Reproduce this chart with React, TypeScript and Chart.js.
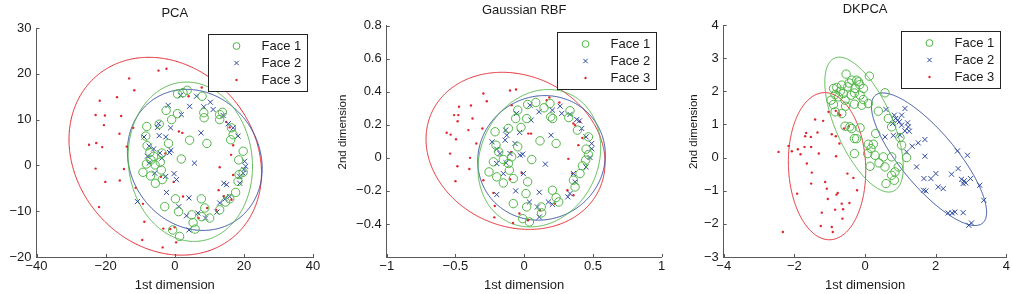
import { useEffect, useRef } from "react";
import { Chart, registerables } from "chart.js";

Chart.register(...registerables);

// ---- text ----
const panelTitles = ["PCA", "Gaussian RBF", "DKPCA"];
const legendLabels = ["Face 1", "Face 2", "Face 3"];
const xAxisLabel = "1st dimension";
const yAxisLabel = "2nd dimension";

// ---- axis ranges [min, max, step] ----
const pcaXRange = [-40, 40, 20];
const pcaYRange = [-20, 30, 10];
const rbfXRange = [-1, 1, 0.5];
const rbfYRange = [-0.6, 0.8, 0.2];
const dkXRange = [-4, 4, 2];
const dkYRange = [-3, 4, 1];

// ---- PCA projections ----
const pcaFace1 = [
  [3.6, 16.4], [0.8, 15.6], [7.9, 15.1], [-2.5, 12.0], [0.8, 11.3], [8.4, 11.5], [13.0, 11.1], [13.8, 11.6],
  [-0.9, 10.0], [-4.5, 9.0], [-8.1, 8.5], [13.0, 10.0], [8.5, 10.4], [-8.4, 6.4], [-8.0, 4.3], [4.3, 5.5],
  [9.3, 4.8], [-1.8, 4.8], [16.2, 5.6], [16.9, 6.7], [-7.2, 2.8], [-6.1, 2.0], [-3.7, 2.7], [-4.2, 0.7],
  [-6.9, 1.2], [-8.2, 0.3], [-5.7, 0.1], [-9.2, -1.5], [-7.0, -2.3], [-3.9, -1.0], [-3.6, -3.1], [-5.6, -3.9],
  [1.9, 1.4], [19.8, 3.1], [18.5, 1.2], [19.8, -1.5], [18.6, -2.0], [18.3, -3.5], [17.6, -5.9], [15.9, -7.3],
  [14.7, -8.0], [13.0, -9.7], [7.7, -7.3], [8.7, -9.3], [7.8, -11.2], [0.2, -7.3], [1.1, -10.1], [-2.9, -9.0],
  [4.9, -10.8], [5.3, -12.5], [5.9, -13.9], [1.4, -15.5], [-0.6, -14.1], [10.1, -11.5], [2.4, 15.9], [16.4, 8.2],
];
const pcaFace2 = [
  [1.7, 15.3], [6.3, 15.1], [-1.9, 13.1], [4.3, 12.9], [8.4, 12.8], [1.9, 11.1], [11.1, 12.2], [10.3, 13.8],
  [14.0, 10.9], [15.5, 9.1], [16.9, 8.2], [18.3, 6.4], [-4.7, 9.1], [-5.0, 8.3], [-4.5, 6.5], [-8.9, 6.2],
  [-2.6, 6.2], [-1.2, 8.2], [7.6, 7.1], [-7.4, 4.2], [-6.1, 3.6], [-7.9, 2.0], [-7.4, 0.5], [-3.7, 1.6],
  [-1.5, 2.8], [-1.1, 3.3], [-4.3, 2.7], [-5.8, -1.7], [-2.6, -2.4], [-0.2, -1.8], [0.5, -3.1], [5.7, 0.5],
  [-2.4, -5.9], [4.1, -7.1], [1.2, -9.0], [3.4, -11.0], [4.1, -14.1], [6.7, -10.4], [8.9, -11.5], [12.2, -10.2],
  [13.0, -8.2], [14.6, -7.3], [15.9, -6.8], [14.2, -3.9], [15.0, -4.2], [18.8, -3.9], [18.8, -2.4], [20.2, 0.9],
  [20.5, -0.2], [20.0, -0.9], [19.8, -1.7], [-10.8, -7.9],
];
const pcaFace3 = [
  [-4.7, 20.7], [-2.4, 21.1], [-13.2, 19.0], [-11.7, 16.4], [-16.7, 14.9], [-21.7, 14.1], [-22.9, 11.0],
  [-20.2, 10.9], [-15.5, 10.8], [-20.5, 8.8], [-16.0, 6.9], [-12.0, 8.2], [-24.8, 4.5], [-22.7, 4.9],
  [-21.0, 4.0], [-13.9, 4.1], [-22.9, -0.7], [-14.7, -0.8], [-20.1, -3.6], [-15.9, -3.3], [-11.3, -4.9],
  [-21.9, -9.1], [-9.2, -8.4], [-8.8, -12.3], [-9.4, -16.3], [-3.5, -17.9], [0.4, -16.8], [-1.3, -13.9],
  [0.0, -13.5], [-3.3, -13.8], [-2.7, 2.6], [-4.0, -2.5], [-0.3, -3.6], [1.2, 7.4], [2.2, 7.1], [4.0, 15.1],
  [7.8, 17.0], [13.0, -0.4], [12.7, -5.4], [16.3, 2.3], [16.9, -2.1], [16.9, 4.4], [14.9, 9.5], [15.9, 8.3],
  [16.4, -7.5], [14.2, -6.7], [9.4, -9.3], [12.0, -9.7], [6.9, -11.5], [2.4, -6.8],
];
// fitted ellipses: [centre x, centre y, x extent, y extent, correlation]
const pcaEllipse1 = [4.5, 0.8, 18.0, 17.4, -0.06];
const pcaEllipse2 = [5.8, 1.2, 19.5, 15.4, -0.12];
const pcaEllipse3 = [-2.75, 2.0, 27.85, 21.6, -0.17];

// ---- Gaussian RBF kernel projections ----
const rbfFace1 = [
  [0.025, 0.323], [0.084, 0.335], [0.188, 0.329], [0.144, 0.303], [0.333, 0.285], [0.324, 0.244], [-0.047, 0.289],
  [0.018, 0.238], [-0.062, 0.238], [0.193, 0.248], [0.207, 0.238], [-0.115, 0.178], [-0.023, 0.184], [-0.212, 0.158],
  [0.387, 0.168], [0.467, 0.127], [0.115, 0.103], [0.232, 0.087], [-0.047, 0.067], [-0.205, 0.077], [-0.185, 0.036],
  [-0.152, -0.01], [-0.091, 0.006], [0.055, -0.01], [0.45, 0.053], [0.467, 0.02], [0.447, -0.014], [-0.256, -0.085],
  [-0.2, -0.115], [-0.152, -0.152], [-0.108, -0.075], [-0.115, -0.034], [-0.224, -0.024], [-0.079, -0.125],
  [0.025, -0.145], [0.013, -0.216], [-0.079, -0.277], [0.018, -0.297], [0.205, -0.196], [0.232, -0.24],
  [0.251, -0.267], [0.124, -0.297], [0.127, -0.333], [-0.011, -0.368], [0.038, -0.388], [0.37, -0.176],
  [0.406, -0.095], [0.423, -0.048], [0.358, -0.135],
];
const rbfFace2 = [
  [0.042, 0.319], [0.261, 0.313], [-0.055, 0.269], [0.108, 0.279], [0.205, 0.289], [0.333, 0.263], [0.273, 0.269],
  [0.05, 0.228], [0.382, 0.232], [0.402, 0.224], [0.418, 0.178], [0.45, 0.127], [-0.135, 0.168], [-0.127, 0.137],
  [-0.033, 0.154], [0.195, 0.137], [-0.234, 0.097], [-0.2, 0.053], [-0.139, 0.107], [-0.067, 0.087], [-0.176, 0.026],
  [-0.03, 0.016], [-0.011, 0.022], [-0.103, 0.026], [-0.2, -0.034], [-0.132, -0.03], [0.154, -0.038], [-0.006, -0.095],
  [-0.152, -0.095], [-0.062, -0.2], [0.11, -0.208], [-0.2, -0.222], [0.038, -0.267], [0.096, -0.297], [0.11, -0.358],
  [0.176, -0.267], [0.205, -0.281], [0.317, -0.236], [0.358, -0.095], [0.45, -0.055], [0.491, 0.087], [0.491, 0.055],
  [0.479, 0.002], [0.333, -0.216], [0.37, -0.145],
];
const rbfFace3 = [
  [-0.103, 0.408], [-0.059, 0.414], [-0.297, 0.39], [-0.272, 0.343], [-0.474, 0.309], [-0.387, 0.317], [-0.51, 0.259],
  [-0.479, 0.259], [-0.484, 0.222], [-0.376, 0.238], [-0.406, 0.168], [-0.304, 0.178], [-0.564, 0.152], [-0.535, 0.141],
  [-0.496, 0.113], [-0.348, 0.087], [-0.539, 0.026], [-0.394, 0.0], [-0.486, -0.051], [-0.399, -0.067], [-0.5, -0.141],
  [-0.297, -0.135], [-0.224, -0.212], [-0.214, -0.291], [-0.217, -0.36], [-0.081, -0.394], [0.028, -0.378],
  [-0.035, -0.337], [-0.018, -0.091], [-0.096, 0.034], [-0.103, -0.129], [0.03, 0.147], [0.05, 0.147], [-0.091, 0.319],
  [0.164, 0.349], [0.183, 0.366], [0.358, 0.208], [0.37, 0.198], [0.394, 0.077], [0.321, -0.006], [0.35, -0.095],
  [0.314, -0.196], [0.358, -0.226], [0.224, -0.277], [0.115, -0.317], [0.406, 0.218], [0.256, 0.335], [0.423, 0.121],
];
const rbfEllipse1 = [0.11, -0.002, 0.446, 0.416, 0.15];
const rbfEllipse2 = [0.126, 0.0, 0.464, 0.377, 0.05];
const rbfEllipse3 = [-0.063, 0.0425, 0.651, 0.4755, -0.15];

// ---- DKPCA projections ----
const dkFace1 = [
  [-0.536, 2.518], [-0.188, 2.286], [0.122, 2.457], [-0.235, 2.336], [-0.376, 2.336], [-0.659, 2.185], [-0.8, 2.115],
  [-0.894, 2.085], [-0.489, 2.135], [-0.282, 2.085], [-0.047, 2.085], [-0.612, 1.934], [-0.395, 1.883], [-0.141, 1.883],
  [-0.753, 1.833], [-0.565, 1.732], [-0.96, 1.732], [-0.894, 1.601], [-0.301, 1.611], [-0.094, 1.581], [0.094, 1.631],
  [-0.847, 1.38], [-0.659, 1.329], [0.565, 1.954], [0.376, 1.4], [-0.565, 0.947], [-0.376, 0.876], [-0.141, 0.896],
  [-0.301, 0.574], [0.301, 0.725], [0.094, 0.403], [0.235, 0.403], [0.169, 0.272], [0.075, 0.121], [-0.301, 0.121],
  [0.282, 0.07], [0.518, 0.02], [0.753, 0.02], [0.395, -0.161], [0.141, -0.262], [0.565, -0.282], [0.941, -0.282],
  [0.753, -0.534], [0.828, -0.685], [0.593, -0.785], [0.847, -0.433], [1.176, 0.0], [1.035, 0.373], [0.988, 0.604],
  [0.659, 1.178], [0.753, 0.926], [-0.7, 2.0], [-0.45, 2.25], [-0.3, 1.95], [-0.15, 2.2], [-0.55, 1.55],
  [-0.85, 1.9], [-0.05, 1.75], [-0.43, 0.93], [-0.24, 0.57],
];
const dkFace2 = [
  [0.593, 1.45], [0.828, 1.279], [0.866, 1.178], [0.922, 1.128], [0.969, 1.078], [0.781, 1.027], [1.035, 0.977],
  [1.205, 1.047], [1.224, 0.926], [1.129, 0.806], [1.252, 0.796], [0.565, 0.624], [0.8, 0.665], [0.988, 0.675],
  [1.176, 0.171], [1.336, 0.342], [1.506, 0.443], [1.694, 0.544], [1.459, -0.282], [1.694, 0.04], [1.666, -0.634],
  [1.656, -0.987], [1.722, -1.007], [1.864, -0.634], [2.005, -0.483], [2.071, -0.886], [2.212, -0.937],
  [2.447, -0.503], [2.635, -0.332], [2.616, 0.201], [2.899, 0.07], [2.729, -0.655], [2.805, -0.705], [2.776, -0.785],
  [2.852, -0.765], [2.984, -0.634], [3.247, -0.836], [3.36, -1.289], [2.353, -1.672], [2.466, -1.672],
  [2.541, -1.642], [2.776, -1.662], [2.936, -2.044], [3.012, -1.974], [1.129, 1.48], [1.035, 1.279],
];
const dkFace3 = [
  [-2.447, 0.171], [-2.325, -2.246], [-2.165, 0.352], [-2.071, 0.191], [-1.901, 0.252], [-1.826, 0.101],
  [-1.92, -1.088], [-1.713, 0.322], [-1.694, 0.644], [-1.666, 0.745], [-1.534, 0.624], [-1.525, 0.322],
  [-1.412, 1.148], [-1.346, 0.755], [-1.186, 1.108], [-1.308, 0.121], [-1.647, -0.181], [-1.506, -0.453],
  [-1.525, -0.786], [-1.129, -0.735], [-1.082, -0.937], [-1.054, -1.249], [-1.224, -1.662], [-1.252, -2.064],
  [-0.941, -2.095], [-0.913, -2.246], [-0.809, -1.118], [-0.772, -1.067], [-0.847, -1.571], [-0.621, -1.561],
  [-0.659, -1.39], [-0.442, -1.37], [-0.64, -1.843], [-0.941, 0.705], [-0.828, 0.644], [-0.819, 0.04],
  [-1.035, 1.38], [-0.828, 1.41], [-0.753, 1.329], [-0.706, 1.279], [-0.593, 0.876], [-0.499, -0.483],
  [-0.329, -0.614], [-0.226, -0.987], [-0.461, 0.947], [-0.725, 0.423],
];
const dkEllipse1 = [-0.028, 0.995, 1.11, 2.035, -0.63];
const dkEllipse2 = [1.81, -0.05, 1.63, 2.0, -0.8];
const dkEllipse3 = [-1.075, -0.26, 1.095, 2.22, -0.06];

// ---- styling ----
const GREEN = "#4fb545";
const BLUE = "#2e4a9e";
const RED = "#e0262c";
const AXIS = "#5a5a5a";
const TEXT = "#1a1a1a";
const FONT = "'Liberation Sans', Arial, Helvetica, sans-serif";
const FONT_SIZE = 13;

const toPoints = (arr: number[][]) => arr.map(([x, y]) => ({ x, y }));

// outline of a fitted 2-D Gaussian contour
function ellipseOutline(e: number[]) {
  const [cx, cy, sx, sy, rho] = e;
  const k = Math.sqrt(1 - rho * rho);
  const pts: { x: number; y: number }[] = [];
  for (let i = 0; i <= 180; i++) {
    const t = (i / 180) * Math.PI * 2;
    pts.push({ x: cx + sx * Math.cos(t), y: cy + sy * (rho * Math.cos(t) + k * Math.sin(t)) });
  }
  return pts;
}

const fmt = (v: number, hidden: number | null) => {
  const n = Math.round(v * 1000) / 1000;
  if (hidden !== null && Math.abs(n - hidden) < 1e-9) return "";
  return String(n).replace("-", "\u2212");
};

// short tick marks pointing into the plot area
const insideTicks = {
  id: "insideTicks",
  afterDraw(chart: any) {
    const { ctx, chartArea: a, scales } = chart;
    ctx.save();
    ctx.strokeStyle = AXIS;
    ctx.lineWidth = 1;
    ctx.beginPath();
    for (const t of scales.x.ticks) {
      const px = Math.round(scales.x.getPixelForValue(t.value)) + 0.5;
      ctx.moveTo(px, a.bottom);
      ctx.lineTo(px, a.bottom - 3);
    }
    for (const t of scales.y.ticks) {
      const py = Math.round(scales.y.getPixelForValue(t.value)) + 0.5;
      ctx.moveTo(a.left, py);
      ctx.lineTo(a.left + 3, py);
    }
    ctx.stroke();
    ctx.restore();
  },
};

// boxed legend in the upper-right corner of the axes
const boxLegend = {
  id: "boxLegend",
  afterDraw(chart: any) {
    const { ctx, chartArea: a } = chart;
    const w = 99;
    const h = 57;
    const left = Math.round(a.right - 6 - w) + 0.5;
    const top = Math.round(a.top + 6) + 0.5;
    ctx.save();
    ctx.fillStyle = "#ffffff";
    ctx.fillRect(left, top, w, h);
    ctx.strokeStyle = "#222222";
    ctx.lineWidth = 1;
    ctx.strokeRect(left, top, w, h);
    ctx.font = `${FONT_SIZE}px ${FONT}`;
    ctx.textBaseline = "middle";
    ctx.textAlign = "left";
    chart.data.datasets.slice(0, 3).forEach((ds: any, i: number) => {
      const y = top + 11.5 + i * 17;
      const mx = left + 28;
      ctx.lineWidth = 1;
      if (ds.pointStyle === "crossRot") {
        ctx.strokeStyle = ds.borderColor;
        ctx.beginPath();
        ctx.moveTo(mx - 2.2, y - 2.2);
        ctx.lineTo(mx + 2.2, y + 2.2);
        ctx.moveTo(mx - 2.2, y + 2.2);
        ctx.lineTo(mx + 2.2, y - 2.2);
        ctx.stroke();
      } else if (ds.pointBorderWidth === 0) {
        ctx.fillStyle = ds.backgroundColor;
        ctx.beginPath();
        ctx.arc(mx, y, 1.2, 0, Math.PI * 2);
        ctx.fill();
      } else {
        ctx.strokeStyle = ds.borderColor;
        ctx.beginPath();
        ctx.arc(mx, y, 3.4, 0, Math.PI * 2);
        ctx.stroke();
      }
      ctx.fillStyle = TEXT;
      ctx.fillText(ds.label, left + 53, y + 0.5);
    });
    ctx.restore();
  },
};

// rotated y-axis caption
const yCaption = {
  id: "yCaption",
  afterDraw(chart: any, _args: any, opts: any) {
    if (!opts || !opts.text) return;
    const { ctx, chartArea: a } = chart;
    ctx.save();
    ctx.translate(a.left - opts.offset, a.top + a.height * 0.46);
    ctx.rotate(-Math.PI / 2);
    ctx.font = `11.5px ${FONT}`;
    ctx.fillStyle = TEXT;
    ctx.textAlign = "center";
    ctx.textBaseline = "middle";
    ctx.fillText(opts.text, 0, 0);
    ctx.restore();
  },
};

type Panel = {
  title: string;
  f1: number[][];
  f2: number[][];
  f3: number[][];
  e1: number[];
  e2: number[];
  e3: number[];
  xr: number[];
  yr: number[];
  hideY: number | null;
  padLeft: number;
  padRight: number;
  yWidth: number;
  titlePad: { top: number; bottom: number };
  yCaptionText: string;
  yCaptionOffset: number;
};

const panels: Panel[] = [
  {
    title: panelTitles[0], f1: pcaFace1, f2: pcaFace2, f3: pcaFace3,
    e1: pcaEllipse1, e2: pcaEllipse2, e3: pcaEllipse3, xr: pcaXRange, yr: pcaYRange, hideY: null,
    padLeft: 6.5, padRight: 699, yWidth: 30, titlePad: { top: 5.2, bottom: 7.2 },
    yCaptionText: "", yCaptionOffset: 0,
  },
  {
    title: panelTitles[1], f1: rbfFace1, f2: rbfFace2, f3: rbfFace3,
    e1: rbfEllipse1, e2: rbfEllipse2, e3: rbfEllipse3, xr: rbfXRange, yr: rbfYRange, hideY: -0.6,
    padLeft: 335.7, padRight: 350.3, yWidth: 51, titlePad: { top: 2.9, bottom: 7.2 },
    yCaptionText: yAxisLabel, yCaptionOffset: 44,
  },
  {
    title: panelTitles[2], f1: dkFace1, f2: dkFace2, f3: dkFace3,
    e1: dkEllipse1, e2: dkEllipse2, e3: dkEllipse3, xr: dkXRange, yr: dkYRange, hideY: null,
    padLeft: 682.2, padRight: 5, yWidth: 41.5, titlePad: { top: 1.5, bottom: 7.9 },
    yCaptionText: yAxisLabel, yCaptionOffset: 30,
  },
];

function buildConfig(p: Panel): any {
  const outline = (e: number[], color: string) => ({
    data: ellipseOutline(e),
    showLine: true,
    borderColor: color,
    borderWidth: 1,
    pointRadius: 0,
    fill: false,
    // a slight tension keeps the outline on the regular (non-decimating) path renderer
    tension: 0.01,
  });
  return {
    type: "scatter",
    data: {
      datasets: [
        {
          label: legendLabels[0], data: toPoints(p.f1), pointStyle: "circle",
          pointRadius: 4.2, pointBorderWidth: 1, borderColor: GREEN, backgroundColor: "rgba(0,0,0,0)",
        },
        {
          label: legendLabels[1], data: toPoints(p.f2), pointStyle: "crossRot",
          pointRadius: 3.6, pointBorderWidth: 1, borderColor: BLUE, backgroundColor: BLUE,
        },
        {
          label: legendLabels[2], data: toPoints(p.f3), pointStyle: "circle",
          pointRadius: 1.2, pointBorderWidth: 0, borderColor: RED, backgroundColor: RED,
        },
        outline(p.e1, GREEN),
        outline(p.e2, BLUE),
        outline(p.e3, RED),
      ],
    },
    options: {
      responsive: false,
      animation: false,
      events: [],
      devicePixelRatio: 1,
      layout: { padding: { left: p.padLeft, right: p.padRight, top: 0, bottom: 0 } },
      plugins: {
        legend: { display: false },
        tooltip: { enabled: false },
        title: {
          display: true,
          text: p.title,
          fullSize: false,
          color: TEXT,
          font: { family: FONT, size: FONT_SIZE, weight: "normal" },
          padding: p.titlePad,
        },
        yCaption: { text: p.yCaptionText, offset: p.yCaptionOffset },
      },
      scales: {
        x: {
          type: "linear",
          position: "bottom",
          min: p.xr[0],
          max: p.xr[1],
          afterFit: (s: any) => { s.height = 37; },
          ticks: {
            stepSize: p.xr[2], autoSkip: false, maxRotation: 0, padding: 2, color: TEXT,
            font: { family: FONT, size: FONT_SIZE },
            callback: (v: number) => fmt(v, null),
          },
          grid: { display: false, drawTicks: false },
          border: { display: true, color: AXIS, width: 1 },
          title: {
            display: true, text: xAxisLabel, color: TEXT,
            font: { family: FONT, size: FONT_SIZE }, padding: { top: 0, bottom: 1.2 },
          },
        },
        y: {
          type: "linear",
          position: "left",
          min: p.yr[0],
          max: p.yr[1],
          afterFit: (s: any) => { s.width = p.yWidth; },
          ticks: {
            stepSize: p.yr[2], autoSkip: false, padding: 5, color: TEXT,
            font: { family: FONT, size: FONT_SIZE },
            callback: (v: number) => fmt(v, p.hideY),
          },
          grid: { display: false, drawTicks: false },
          border: { display: true, color: AXIS, width: 1 },
        },
      },
    },
    plugins: [insideTicks, boxLegend, yCaption],
  };
}

function PanelCanvas({ panel }: { panel: Panel }) {
  const ref = useRef<HTMLCanvasElement | null>(null);
  useEffect(() => {
    if (!ref.current) return;
    const chart = new Chart(ref.current, buildConfig(panel));
    return () => chart.destroy();
  }, [panel]);
  return (
    <canvas
      ref={ref}
      width={1012}
      height={294}
      style={{ position: "absolute", left: 0, top: 0, width: 1012, height: 294, pointerEvents: "none" }}
    />
  );
}

export default function App() {
  return (
    <div style={{ position: "fixed", left: 0, top: 0, width: 1012, height: 294, background: "#ffffff" }}>
      {panels.map((p) => (
        <PanelCanvas key={p.title} panel={p} />
      ))}
    </div>
  );
}
